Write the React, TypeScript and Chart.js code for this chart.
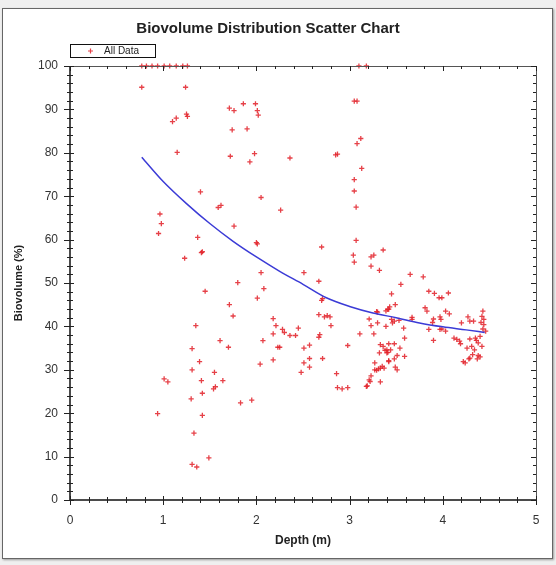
import React, { useEffect, useRef } from "react";
import { Chart, registerables } from "chart.js";

Chart.register(...registerables);

const TITLE = "Biovolume Distribution Scatter Chart";
const X_LABEL = "Depth (m)";
const Y_LABEL = "Biovolume (%)";
const LEGEND_LABEL = "All Data";
const X_TICKS = [0, 1, 2, 3, 4, 5];
const Y_TICKS = [0, 10, 20, 30, 40, 50, 60, 70, 80, 90, 100];

const DEPTH = [
  0.77, 0.82, 0.88, 0.94, 1.01, 1.07, 1.14, 1.21, 1.26, 3.10, 3.18,
  0.77, 1.24, 1.71, 1.25, 1.26, 1.10, 1.14, 1.15, 1.72, 1.74, 1.40, 1.62, 1.59,
  0.965, 0.98, 0.95, 1.37, 1.41, 1.42, 1.23, 1.45, 1.71, 1.35, 1.61, 1.31, 1.70,
  1.39, 1.31, 1.55, 1.01, 1.05, 1.41, 1.64, 1.54, 1.56, 1.42, 1.30, 0.94, 1.42,
  1.33, 1.49, 1.31, 1.36, 1.76, 1.86, 1.99, 2.01, 2.02, 1.90, 1.98, 1.93, 2.36,
  2.85, 2.87, 3.05, 3.08, 3.12, 3.08, 3.13, 3.05, 3.05, 3.07, 2.05, 2.26, 1.76,
  2.00, 2.01, 2.70, 3.07, 3.04, 3.05, 3.23, 3.26, 3.36, 3.23, 3.32, 2.05, 2.51,
  2.67, 1.80, 2.08, 2.01, 2.71, 2.70, 1.75, 2.18, 2.67, 2.73, 2.76, 2.79, 2.80,
  2.21, 2.28, 2.30, 2.45, 2.18, 2.36, 2.42, 2.68, 2.67, 2.07, 2.23, 2.25, 2.51,
  2.57, 2.98, 3.11, 3.26, 3.23, 3.21, 3.30, 3.39, 3.29, 3.42, 3.39, 3.33, 3.36,
  2.04, 2.18, 2.51, 2.57, 2.71, 2.57, 2.48, 2.86, 2.87, 2.92, 2.98, 1.83, 1.95,
  3.32, 3.40, 3.40, 3.27, 3.42, 3.27, 3.33, 3.35, 3.37, 3.23, 3.22, 3.19, 3.18,
  3.33, 3.65, 3.55, 3.45, 3.49, 3.43, 3.41, 3.67, 3.45, 3.48, 3.53, 3.46, 3.58,
  3.59, 3.42, 3.48, 3.54, 3.38, 3.41, 3.44, 3.51, 3.59, 3.42, 3.48, 3.31, 3.29,
  3.49, 3.51, 3.21, 3.79, 3.85, 3.91, 3.96, 3.99, 4.06, 3.81, 3.83, 4.03, 4.07,
  3.97, 3.98, 3.90, 3.89, 3.67, 4.27, 4.29, 4.33, 4.20, 4.43, 4.42, 4.44, 4.44,
  4.43, 4.41, 4.46, 3.85, 3.97, 3.99, 4.03, 3.90, 4.12, 4.15, 4.18, 4.19, 4.29,
  4.35, 4.40, 4.36, 4.38, 4.42, 4.26, 4.31, 4.34, 4.32, 4.38, 4.40, 4.37, 4.22,
  4.24, 4.28, 4.29, 3.30,
];

const BIOVOLUME = [
  100, 100, 100, 100, 100, 100, 100, 100, 100, 100, 100,
  95.1, 95.1, 90.3, 88.9, 88.4, 87.2, 88.0, 80.1, 79.2, 85.3, 71.0, 67.9, 67.4,
  65.9, 63.7, 61.4, 60.5, 57.0, 57.2, 55.7, 48.1, 45.0, 40.2, 36.7, 34.9, 35.2,
  31.9, 30.0, 29.4, 27.9, 27.2, 27.5, 27.5, 25.6, 26.1, 24.6, 23.3, 19.9, 19.5,
  15.4, 9.7, 8.2, 7.6, 89.7, 91.3, 91.3, 89.7, 88.7, 85.5, 79.8, 77.9, 78.8,
  79.5, 79.7, 91.9, 91.9, 83.3, 82.1, 76.4, 73.8, 71.2, 67.5, 69.7, 66.8, 63.1,
  59.3, 59.0, 58.3, 59.8, 56.4, 54.8, 56.0, 56.4, 57.6, 53.9, 52.9, 52.4, 52.4,
  50.4, 50.1, 48.7, 46.5, 46.4, 46.0, 42.4, 41.8, 42.7, 42.2, 42.5, 42.2, 40.2,
  40.2, 39.3, 38.6, 39.6, 38.3, 37.9, 37.9, 38.1, 37.5, 36.7, 35.2, 35.2, 35.0,
  35.7, 35.6, 38.3, 38.3, 40.2, 41.7, 40.8, 40.0, 43.4, 44.0, 43.6, 35.8, 35.4,
  31.3, 32.3, 31.6, 32.6, 32.6, 30.6, 29.4, 29.1, 25.9, 25.6, 25.9, 22.4, 23.0,
  33.9, 33.9, 34.6, 31.6, 31.9, 30.0, 30.4, 30.8, 30.4, 28.6, 27.3, 26.3, 26.2,
  27.2, 52.0, 49.7, 47.5, 45.0, 44.5, 43.9, 42.1, 41.6, 41.2, 41.4, 40.8, 39.6,
  37.3, 36.0, 36.0, 35.0, 34.5, 34.0, 34.6, 33.3, 33.1, 32.1, 32.5, 30.2, 29.9,
  30.6, 30.0, 27.7, 51.4, 48.1, 47.6, 46.6, 46.6, 47.7, 44.3, 43.5, 43.5, 42.9,
  42.2, 41.6, 41.7, 40.9, 41.6, 42.2, 41.2, 41.2, 40.8, 43.5, 42.3, 41.6, 40.4,
  39.4, 40.9, 38.9, 39.3, 39.3, 39.4, 38.9, 36.8, 37.3, 37.0, 36.6, 36.0, 37.1,
  37.3, 37.7, 36.8, 36.2, 35.4, 35.0, 35.4, 34.6, 33.5, 33.3, 33.0, 32.5, 31.9,
  31.6, 32.5, 32.7, 43.3,
];

const FIT_DEPTH = [0.77, 1.0, 1.25, 1.5, 1.75, 2.0, 2.25, 2.5, 2.75, 3.0, 3.25, 3.5, 3.75, 4.0, 4.25, 4.45];
const FIT_BIOVOLUME = [79.0, 73.4, 68.3, 63.7, 59.6, 56.0, 52.7, 49.7, 46.6, 44.6, 43.1, 42.0, 40.8, 39.9, 39.2, 38.6];

const FONT = "'Liberation Sans', Arial, sans-serif";
const POINT_COLOR = "rgba(226, 32, 40, 0.85)";
const LINE_COLOR = "#3b3bd6";

const frameTicks = {
  id: "frameTicks",
  afterDraw(chart: any) {
    const { ctx, chartArea: a, scales } = chart;
    const x = scales.x;
    const y = scales.y;
    ctx.save();
    ctx.strokeStyle = "#555";
    ctx.lineWidth = 1;
    ctx.beginPath();
    ctx.moveTo(a.left, Math.round(a.top) + 0.5);
    ctx.lineTo(a.right, Math.round(a.top) + 0.5);
    ctx.moveTo(Math.round(a.right) + 0.5, a.top);
    ctx.lineTo(Math.round(a.right) + 0.5, a.bottom);
    ctx.stroke();
    ctx.strokeStyle = "#111";
    ctx.lineWidth = 1.5;
    ctx.beginPath();
    ctx.moveTo(a.left, a.top);
    ctx.lineTo(a.left, a.bottom);
    ctx.lineTo(a.right, a.bottom);
    ctx.stroke();

    ctx.lineWidth = 1;
    ctx.strokeStyle = "#222";
    ctx.beginPath();
    const xMax = X_TICKS[X_TICKS.length - 1];
    const nx = Math.round(xMax / 0.2);
    for (let i = 0; i <= nx; i++) {
      const v = i * 0.2;
      const px = Math.round(x.getPixelForValue(v)) + 0.5;
      const major = i % 5 === 0;
      ctx.moveTo(px, a.bottom - (major ? 4 : 3));
      ctx.lineTo(px, a.bottom + (major ? 5 : 3));
      ctx.moveTo(px, a.top);
      ctx.lineTo(px, a.top + (major ? 5 : 3));
    }
    const yMax = Y_TICKS[Y_TICKS.length - 1];
    const ny = Math.round(yMax / 2);
    for (let i = 0; i <= ny; i++) {
      const v = i * 2;
      const py = Math.round(y.getPixelForValue(v)) + 0.5;
      const major = i % 5 === 0;
      ctx.moveTo(a.left - (major ? 6 : 3), py);
      ctx.lineTo(a.left + (major ? 4 : 3), py);
      ctx.moveTo(a.right - (major ? 5 : 3), py);
      ctx.lineTo(a.right, py);
    }
    ctx.stroke();

    const lx = 70.5, ly = 44.5, lw = 85, lh = 13;
    ctx.fillStyle = "#fff";
    ctx.fillRect(lx, ly, lw, lh);
    ctx.strokeStyle = "#111";
    ctx.lineWidth = 1;
    ctx.strokeRect(lx, ly, lw, lh);
    ctx.strokeStyle = POINT_COLOR;
    ctx.lineWidth = 1.2;
    ctx.beginPath();
    ctx.moveTo(88, ly + lh / 2);
    ctx.lineTo(93, ly + lh / 2);
    ctx.moveTo(90.5, ly + lh / 2 - 2.5);
    ctx.lineTo(90.5, ly + lh / 2 + 2.5);
    ctx.stroke();
    ctx.fillStyle = "#222";
    ctx.font = `10px ${FONT}`;
    ctx.textBaseline = "middle";
    ctx.textAlign = "left";
    ctx.fillText(LEGEND_LABEL, 104, ly + lh / 2 + 0.5);
    ctx.restore();
  },
};

export default function App() {
  const ref = useRef<HTMLCanvasElement>(null);

  useEffect(() => {
    const canvas = ref.current;
    if (!canvas) return;
    const points = DEPTH.map((d, i) => ({ x: d, y: BIOVOLUME[i] }));
    const fit = FIT_DEPTH.map((d, i) => ({ x: d, y: FIT_BIOVOLUME[i] }));
    const chart = new Chart(canvas, {
      type: "scatter",
      data: {
        datasets: [
          {
            type: "line",
            label: "Fit",
            data: fit,
            borderColor: LINE_COLOR,
            borderWidth: 1.5,
            pointRadius: 0,
            fill: false,
            cubicInterpolationMode: "monotone",
          } as any,
          {
            label: LEGEND_LABEL,
            data: points,
            pointStyle: "cross",
            pointRadius: 2.6,
            borderColor: POINT_COLOR,
            backgroundColor: POINT_COLOR,
            borderWidth: 1.3,
            clip: 6,
          } as any,
        ],
      },
      options: {
        animation: false,
        responsive: false,
        maintainAspectRatio: false,
        layout: { padding: { left: 0, right: 20, top: 0, bottom: 0 } },
        plugins: {
          legend: { display: false },
          tooltip: { enabled: false },
          title: {
            display: true,
            text: TITLE,
            color: "#222",
            font: { family: FONT, size: 15, weight: "bold" },
            padding: { top: 20, bottom: 28 },
          },
        },
        scales: {
          x: {
            type: "linear",
            min: X_TICKS[0],
            max: X_TICKS[X_TICKS.length - 1],
            afterFit: (s: any) => {
              s.height = 65;
            },
            afterBuildTicks: (s: any) => {
              s.ticks = X_TICKS.map((v) => ({ value: v }));
            },
            grid: { display: false },
            border: { display: false },
            ticks: {
              color: "#333",
              padding: 5,
              font: { family: FONT, size: 12 },
              maxRotation: 0,
            },
            title: {
              display: true,
              text: X_LABEL,
              color: "#222",
              font: { family: FONT, size: 12, weight: "bold" },
              padding: { top: 0, bottom: 17 },
            },
          },
          y: {
            type: "linear",
            min: Y_TICKS[0],
            max: Y_TICKS[Y_TICKS.length - 1],
            afterFit: (s: any) => {
              s.width = 70;
            },
            afterBuildTicks: (s: any) => {
              s.ticks = Y_TICKS.map((v) => ({ value: v }));
            },
            grid: { display: false },
            border: { display: false },
            ticks: {
              color: "#333",
              padding: 4,
              font: { family: FONT, size: 12 },
            },
            title: {
              display: true,
              text: Y_LABEL,
              color: "#222",
              font: { family: FONT, size: 11, weight: "bold" },
              padding: { top: 12, bottom: 0 },
            },
          },
        },
      },
      plugins: [frameTicks],
    });
    return () => chart.destroy();
  }, []);

  return (
    <div
      style={{
        position: "absolute",
        left: 0,
        top: 0,
        width: 556,
        height: 565,
        background: "#efefef",
        overflow: "hidden",
      }}
    >
      <div
        style={{
          position: "absolute",
          left: 2,
          top: 8,
          width: 549,
          height: 549,
          background: "#fff",
          border: "1px solid #666",
          boxShadow: "1px 1px 2px rgba(0,0,0,0.35)",
        }}
      />
      <canvas
        ref={ref}
        width={556}
        height={565}
        style={{ position: "absolute", left: 0, top: 0, width: 556, height: 565 }}
      />
    </div>
  );
}
